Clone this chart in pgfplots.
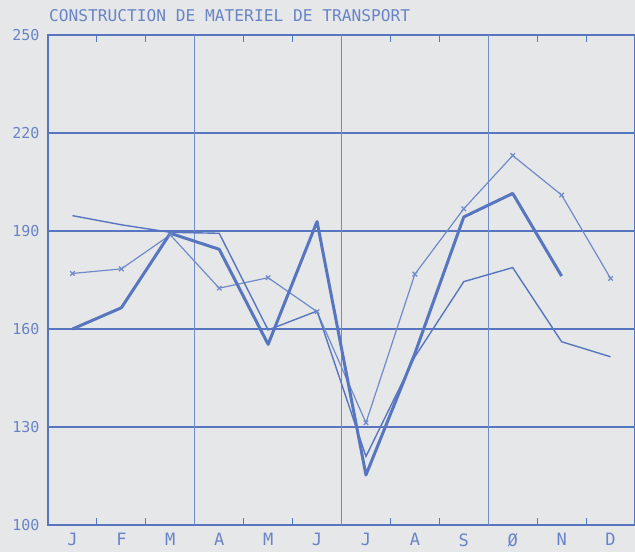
\documentclass[border=0pt]{standalone}
\usepackage{pgfplots}
\pgfplotsset{compat=1.18}
\usepackage{fontspec}
\setmainfont{DejaVu Sans Mono}
\definecolor{bl}{RGB}{88,118,192}
\definecolor{bg}{RGB}{229,231,233}
\begin{document}
\begin{tikzpicture}
\path[use as bounding box, fill=bg] (0,0) rectangle (635pt,552pt);
\begin{axis}[
  at={(48pt,27pt)}, anchor=south west, scale only axis,
  width=587pt, height=490pt,
  xmin=0, xmax=12, ymin=100, ymax=250,
  axis line style={draw=bl, line width=1.3pt},
  /pgf/number format/assume math mode=true,
  ticklabel style={font=\fontsize{15}{16}\selectfont, text=bl!90},
  xtick={0.5,1.5,2.5,3.5,4.5,5.5,6.5,7.5,8.5,9.5,10.5,11.5},
  xticklabels={J,F,M,A,M,J,J,A,S,Ø,N,D},
  major x tick style={draw=none},
  minor xtick={1,2,4,5,7,8,10,11},
  minor tick length=7pt,
  minor x tick style={draw=bl, line width=0.9pt},
  tick align=inside,
  xticklabel style={yshift=-5pt, font=\fontsize{17}{18}\selectfont},
  ytick={100,130,160,190,220,250},
  ytick pos=left,
  major tick length=5pt,
  major y tick style={draw=bl, line width=0.9pt},
  yticklabel style={xshift=-5pt},
  ymajorgrids,
  major grid style={draw=bl, line width=1.6pt},
  extra x ticks={3,6,9},
  extra x tick labels={},
  extra x tick style={grid=major, major grid style={draw=bl!85, line width=0.8pt}, major x tick style={draw=none}},
  title={CONSTRUCTION DE MATERIEL DE TRANSPORT},
  title style={at={(0,1)}, anchor=south west, inner sep=0pt, xshift=1pt, yshift=7pt, text=bl!90, font=\fontsize{16.2}{17}\selectfont},
]
% series with crosses
\addplot[bl!85, line width=1.2pt, mark=x, mark size=3.2pt, mark options={line width=1.2pt}] coordinates {
 (0.5,177) (1.5,178.4) (2.5,188.8) (3.5,172.5) (4.5,175.7) (5.5,165.3)
 (6.5,131.3) (7.5,176.8) (8.5,196.8) (9.5,213.1) (10.5,201) (11.5,175.5)};
% thick series
\addplot[bl, line width=3pt, line join=round] coordinates {
 (0.5,160) (1.5,166.5) (2.5,189.3) (3.5,184.4) (4.5,155.3) (5.5,192.9)
 (6.5,115.3) (7.5,152.5) (8.5,194.3) (9.5,201.5) (10.5,176.2)};
% thin series
\addplot[bl, line width=1.4pt] coordinates {
 (0.5,194.7) (1.5,191.9) (2.5,189.6) (3.5,189.3) (4.5,159.7) (5.5,165.5)
 (6.5,121) (7.5,151.5) (8.5,174.5) (9.5,178.8) (10.5,156.1) (11.5,151.5)};
\end{axis}
\end{tikzpicture}
\end{document}
